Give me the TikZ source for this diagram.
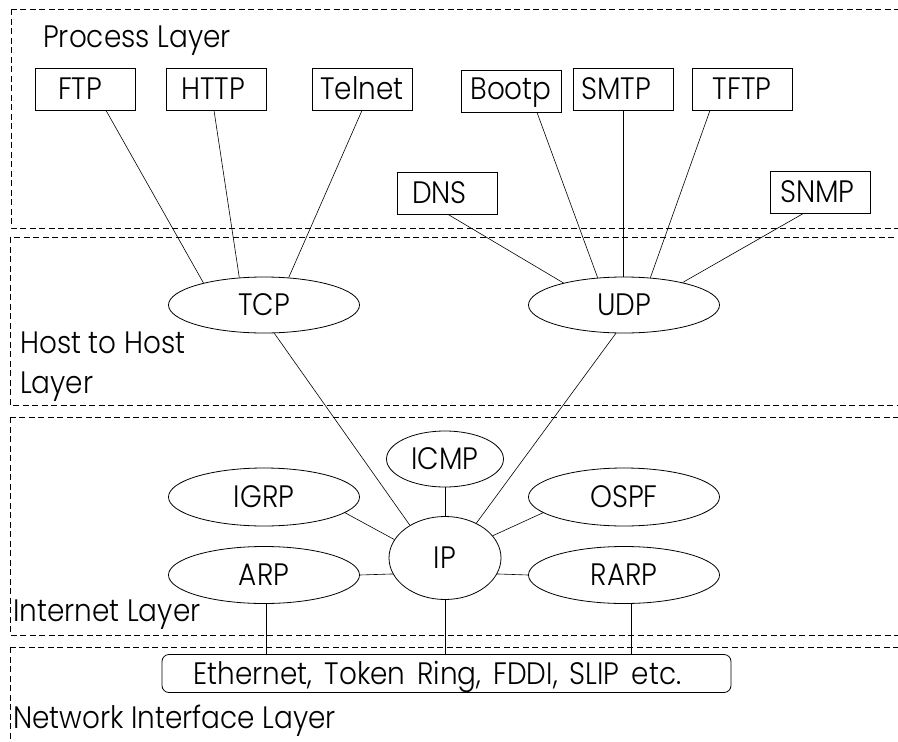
\documentclass[tikz,border=0pt]{standalone}
\usepackage{fontspec}
\setmainfont{Poppins Light}[FakeStretch=0.9]
\usetikzlibrary{shapes.geometric,calc}
% shift a label sideways inside its frame without changing the frame
\newcommand\nudgeleft[2]{\hspace*{-#1}#2\hspace*{#1}}
\begin{document}
\begin{tikzpicture}[x=1pt,y=-1pt,
  every node/.style={inner sep=0pt, font=\fontsize{31}{40}\selectfont},
  layer/.style={draw, line width=0.6pt, dash pattern=on 6pt off 3.5pt},
  lbl/.style={anchor=base west},
  proto/.style={draw, line width=0.8pt, rectangle, minimum width=100pt,
    minimum height=42pt, text height=21pt, text depth=0pt},
  ell/.style={draw, line width=0.8pt, ellipse, text height=21pt, text depth=0pt},
  link/.style={line width=0.6pt}]
\useasboundingbox (0,0) rectangle (898,742);

% layer frames, open to the right
\draw[layer] (11,9) rectangle (930,228);
\draw[layer] (10,237) rectangle (930,405);
\draw[layer] (10,417) rectangle (930,635);
\draw[layer] (10,647) rectangle (930,770);

% layer titles
\node[lbl] (proclbl) at (43,47) {Process Layer};
\node[anchor=north west, align=left] (hostlbl) at (20,332) {Host to Host\\Layer};
\node[lbl] (inetlbl) at (13,621) {Internet Layer};
\node[lbl] (netlbl) at (13,728) {Network Interface Layer};

% application protocols
\node[proto] (ftp) at (85.5,89) {\nudgeleft{5.5pt}{FTP}};
\node[proto] (http) at (216,89) {\nudgeleft{3pt}{HTTP}};
\node[proto] (telnet) at (362,89) {Telnet};
\node[proto] (bootp) at (511,91) {\raisebox{2.5pt}{Bootp}};
\node[proto] (smtp) at (623,89) {\nudgeleft{7pt}{SMTP}};
\node[proto] (tftp) at (742,89) {TFTP};
\node[proto] (dns) at (447,193) {\nudgeleft{7.5pt}{DNS}};
\node[proto] (snmp) at (820.5,192) {\nudgeleft{3pt}{SNMP}};

% transport protocols
\node[ell, minimum width=191pt, minimum height=56pt] (tcp) at (264,305) {TCP};
\node[ell, minimum width=191pt, minimum height=56pt] (udp) at (624,305) {UDP};

% internet protocols
\node[ell, minimum width=117pt, minimum height=56pt] (icmp) at (445,459) {ICMP};
\node[ell, minimum width=112pt, minimum height=83pt] (ip) at (445,558) {IP};
\node[ell, minimum width=191pt, minimum height=58pt] (igrp) at (264,497) {IGRP};
\node[ell, minimum width=191pt, minimum height=58pt] (ospf) at (624,497) {OSPF};
\node[ell, minimum width=191pt, minimum height=57pt] (arp) at (264,575) {ARP};
\node[ell, minimum width=191pt, minimum height=57pt] (rarp) at (624,575) {RARP};

% network interfaces
\node[draw, line width=0.8pt, rounded corners=7pt, minimum width=569pt,
  minimum height=38pt, text height=21pt, text depth=0pt] (eth) at (446.5,673.5)
  {\spaceskip=12pt\relax\nudgeleft{9pt}{Ethernet, Token Ring, FDDI, SLIP etc.}};

% links to TCP
\draw[link] ($(ftp.south)+(20.5,0)$) -- (tcp.160);
\draw[link] ($(http.south)+(-2,0)$) -- (tcp.132);
\draw[link] (telnet.south) -- (tcp.48);

% links to UDP
\draw[link] ($(dns.south)+(1,0)$) -- (udp.160);
\draw[link] ($(bootp.south)+(26,0)$) -- (udp.134);
\draw[link] (smtp.south) -- (smtp.south |- udp.north);
\draw[link] ($(tftp.south)+(-32,0)$) -- (udp.46);
\draw[link] ($(snmp.south)+(-17,0)$) -- (udp.21);

% transport to IP
\draw[link] (tcp.-70) -- (ip.137);
\draw[link] (udp.-106) -- (ip.48);

% around IP
\draw[link] (icmp) -- (ip);
\draw[link] (igrp.-11) -- (ip.160);
\draw[link] (ospf.191) -- (ip.25);
\draw[link] (arp.east) -- (ip.197);
\draw[link] (rarp.west) -- (ip.343);

% down to the network interfaces
\draw[link] ($(arp.south)+(2,0)$) -- ($(arp.south |- eth.north)+(2,0)$);
\draw[link] (ip.south) -- (ip.south |- eth.north);
\draw[link] ($(rarp.south)+(7,0)$) -- ($(rarp.south |- eth.north)+(7,0)$);
\end{tikzpicture}
\end{document}
